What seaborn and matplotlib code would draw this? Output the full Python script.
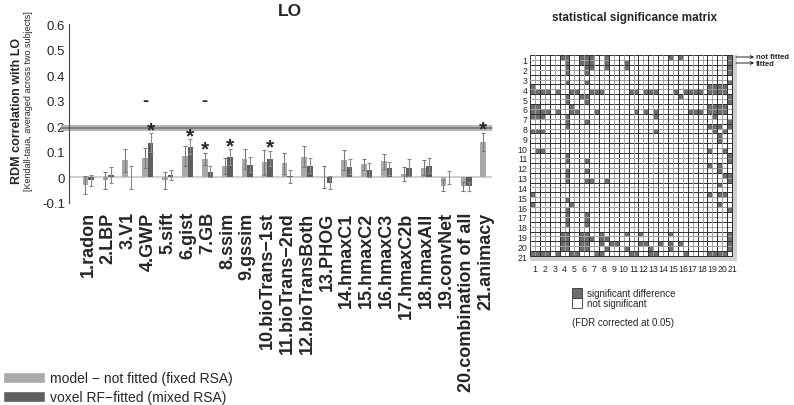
import numpy as np
import pandas as pd
import matplotlib
matplotlib.use('Agg')
import matplotlib.pyplot as plt
from matplotlib.colors import ListedColormap
from matplotlib.patches import Patch, Rectangle
import seaborn as sns

# ---- bar chart data ----
labels = ['1.radon', '2.LBP', '3.V1', '4.GWP', '5.sift', '6.gist', '7.GB', '8.ssim',
          '9.gssim', '10.bioTrans\u22121st', '11.bioTrans\u22122nd', '12.bioTransBoth',
          '13.PHOG', '14.hmaxC1', '15.hmaxC2', '16.hmaxC3', '17.hmaxC2b', '18.hmaxAll',
          '19.convNet', '20.combination of all', '21.animacy']
not_fitted = [-0.030, -0.012, 0.068, 0.076, -0.012, 0.083, 0.072, 0.045, 0.072, 0.059,
              0.055, 0.081, 0.000, 0.069, 0.052, 0.063, 0.013, 0.038, -0.032, -0.034, 0.139]
not_fitted_err = [0.035, 0.032, 0.045, 0.039, 0.035, 0.040, 0.025, 0.030, 0.038, 0.048,
                  0.042, 0.042, 0.043, 0.040, 0.022, 0.030, 0.028, 0.030, 0.022, 0.018, 0.036]
fitted = [-0.012, 0.010, 0.000, 0.136, 0.010, 0.120, 0.022, 0.080, 0.050, 0.074,
          0.005, 0.046, -0.020, 0.042, 0.030, 0.036, 0.038, 0.046, 0.000, -0.034, np.nan]
fitted_err = [0.020, 0.030, 0.045, 0.037, 0.020, 0.030, 0.022, 0.030, 0.030, 0.030,
              0.025, 0.030, 0.025, 0.030, 0.028, 0.025, 0.033, 0.030, 0.025, 0.018, np.nan]
star_not_fitted = [7, 21]        # model numbers with * above the light bar
star_fitted = [4, 6, 8, 10]      # model numbers with * above the dark bar
dash_not_fitted = [4, 7]         # model numbers with - marker
noise_ceiling = 0.194

series_names = ['model \u2212 not fitted (fixed RSA)', 'voxel RF\u2212fitted (mixed RSA)']
yticks = [-0.1, 0, 0.1, 0.2, 0.3, 0.4, 0.5, 0.6]
ytick_labels = ['-0.1', '0', '0.1', '0.2', '0.3', '0.4', '0.5', '0.6']

# ---- significance matrix: dark cells below the diagonal (row -> columns),
# 42 rows = 21 models x (not fitted, fitted) ----
sig_lower = {
    6: [0], 7: [0, 1, 2, 3, 5], 8: [7], 9: [7], 10: [0, 1, 8],
    11: [0, 1, 2, 3, 5, 8, 9], 12: [0, 1, 2, 7], 13: [7, 11], 14: [7], 15: [0, 1, 2],
    19: [1, 2], 20: [7], 21: [7, 11], 23: [7, 11], 24: [7], 25: [7, 11, 12, 15],
    28: [0], 29: [7], 30: [0, 8], 31: [7], 32: [7, 11], 33: [7, 11], 34: [7, 11],
    36: [6, 7, 10, 11, 14, 19, 22, 28],
    37: [6, 7, 10, 11, 12, 14, 15],
    38: [6, 7, 10, 11, 14, 16, 17, 22, 23, 26, 28, 30],
    39: [6, 7, 10, 11, 15, 19, 24, 28],
    40: [0, 1, 2, 3, 5, 8, 9, 13, 14, 20, 21, 24, 25, 31, 36, 37, 38, 39],
}
matrix_ticks = [str(i) for i in range(1, 22)]

sns.set_style('white')
plt.rcParams['font.family'] = ['Liberation Sans', 'DejaVu Sans']

fig = plt.figure(figsize=(7.94, 4.06), dpi=100)
W, H = 794, 406

# ---------------- bar chart ----------------
ax = fig.add_axes([69.3 / W, 1 - 204 / H, (492 - 69.3) / W, 179 / H])
df = pd.DataFrame({'model': labels * 2,
                   'fit': [series_names[0]] * 21 + [series_names[1]] * 21,
                   'r': not_fitted + fitted}).dropna()
sns.barplot(data=df, x='model', y='r', hue='fit', hue_order=series_names,
            palette=['#a9a9a9', '#5e5e5e'], width=0.56, saturation=1,
            errorbar=None, legend=False, ax=ax, zorder=2, linewidth=0)

bw = 0.56 / 4
xpos = np.arange(len(labels))
ax.errorbar(xpos - bw, not_fitted, yerr=not_fitted_err, fmt='none',
            ecolor='#7a7a7a', elinewidth=0.8, capsize=1.6, capthick=0.8, zorder=3)
ax.errorbar(xpos + bw, fitted, yerr=fitted_err, fmt='none',
            ecolor='#8a8a8a', elinewidth=0.8, capsize=1.6, capthick=0.8, zorder=3)

ax.axhline(0, color='#cccccc', lw=1.3, zorder=1)
ax.axhspan(noise_ceiling - 0.011, noise_ceiling + 0.011, xmin=-0.02, xmax=1,
           color='#b8b8b8', lw=0, clip_on=False, zorder=1)
ax.axhline(noise_ceiling, xmin=-0.02, xmax=1, color='#707070', lw=1.1,
           clip_on=False, zorder=1)

for m in star_not_fitted:
    i = m - 1
    ax.text(i - bw, not_fitted[i] + not_fitted_err[i] - 0.008, '*', ha='center',
            va='baseline', fontsize=15, fontweight='bold')
for m in star_fitted:
    i = m - 1
    ax.text(i + bw, fitted[i] + fitted_err[i] - 0.008, '*', ha='center',
            va='baseline', fontsize=15, fontweight='bold')
for m in dash_not_fitted:
    ax.text(m - 1 - bw, 0.30, '-', ha='center', va='center',
            fontsize=13, fontweight='bold')

ax.set_xlim(-0.95, 20.3)
ax.set_ylim(-0.1, 0.6)
ax.set_yticks(yticks)
ax.set_yticklabels(ytick_labels, fontsize=9.5)
ax.tick_params(axis='y', direction='in', length=3, color='#444444', pad=3)
ax.tick_params(axis='x', length=0, pad=6)
ax.set_xticks(xpos)
ax.set_xticklabels(labels, rotation=90, fontsize=13, fontweight='bold', va='top')
ax.set_xlabel('')
ax.set_ylabel('')
for s in ['top', 'right', 'bottom']:
    ax.spines[s].set_visible(False)
ax.spines['left'].set_color('#444444')
ax.spines['left'].set_linewidth(0.8)

fig.text(290 / W, 1 - 12 / H, 'LO', ha='center', va='center', fontsize=12.5, fontweight='bold')
fig.text(17 / W, 1 - 111 / H, 'RDM correlation with LO', rotation=90, ha='center',
         va='center', fontsize=9, fontweight='bold')
fig.text(29 / W, 1 - 101 / H, '[Kendall-taua, averaged across two subjects]', rotation=90,
         ha='center', va='center', fontsize=6.5)

handles = [Patch(facecolor='#a9a9a9'), Patch(facecolor='#5e5e5e')]
fig.legend(handles, series_names, loc='upper left', bbox_to_anchor=(3 / W, 1 - 372 / H),
           frameon=False, fontsize=10, handlelength=3.0, handleheight=0.85,
           handletextpad=0.35, borderaxespad=0, borderpad=0, labelspacing=0.35)

# ---------------- significance matrix ----------------
n = 42
mat = np.zeros((n, n))
for r, cols in sig_lower.items():
    for c in cols:
        mat[r, c] = 1
        mat[c, r] = 1
mat[n - 1, :] = 2
mat[:, n - 1] = 2

ax2 = fig.add_axes([530 / W, 1 - 262 / H, 207 / W, 206 / H])
sns.heatmap(mat, cmap=ListedColormap(['white', '#6e6e6e', '#d0d0d0']), vmin=-0.5, vmax=2.5,
            cbar=False, ax=ax2, xticklabels=False, yticklabels=False)
for i in range(n):
    col = '#2e2e2e' if i % 2 == 0 else '#a0a0a0'
    ax2.plot([0, n - 1], [i, i], color=col, lw=0.7)
    ax2.plot([i, i], [0, n - 1], color=col, lw=0.7)
ax2.plot([0, n - 1], [n - 1, n - 1], color='#2e2e2e', lw=0.7)
ax2.plot([n - 1, n - 1], [0, n - 1], color='#2e2e2e', lw=0.7)
ax2.set_xticks(np.arange(21) * 2 + 1)
ax2.set_xticklabels(matrix_ticks, fontsize=6.3, rotation=0)
ax2.set_yticks(np.arange(21) * 2 + 1)
ax2.set_yticklabels(matrix_ticks, fontsize=6.3, rotation=0)
ax2.tick_params(length=0, pad=2)

fig.text(634 / W, 1 - 18 / H, 'statistical significance matrix', ha='center', va='center',
         fontsize=8.5, fontweight='bold')
for yy, txt in [(58, 'not fitted'), (64, 'fitted')]:
    ax2.annotate('', xy=(754 / W, 1 - yy / H), xytext=(736 / W, 1 - yy / H),
                 xycoords='figure fraction', textcoords='figure fraction',
                 arrowprops=dict(arrowstyle='->', lw=0.6, color='black',
                                 shrinkA=0, shrinkB=0, mutation_scale=5))
    fig.text(756 / W, 1 - yy / H, txt, ha='left', va='center', fontsize=5.5,
             fontweight='bold')

fig.add_artist(Rectangle((572 / W, 1 - 299 / H), 10 / W, 10 / H, transform=fig.transFigure,
                         facecolor='#6e6e6e', edgecolor='#333333', lw=0.6))
fig.add_artist(Rectangle((572 / W, 1 - 309 / H), 10 / W, 10 / H, transform=fig.transFigure,
                         facecolor='white', edgecolor='#333333', lw=0.6))
fig.text(587 / W, 1 - 294 / H, 'significant difference', ha='left', va='center', fontsize=7)
fig.text(587 / W, 1 - 304 / H, 'not significant', ha='left', va='center', fontsize=7)
fig.text(572 / W, 1 - 323 / H, '(FDR corrected at 0.05)', ha='left', va='center', fontsize=7)

fig.savefig('out.png', dpi=100)
